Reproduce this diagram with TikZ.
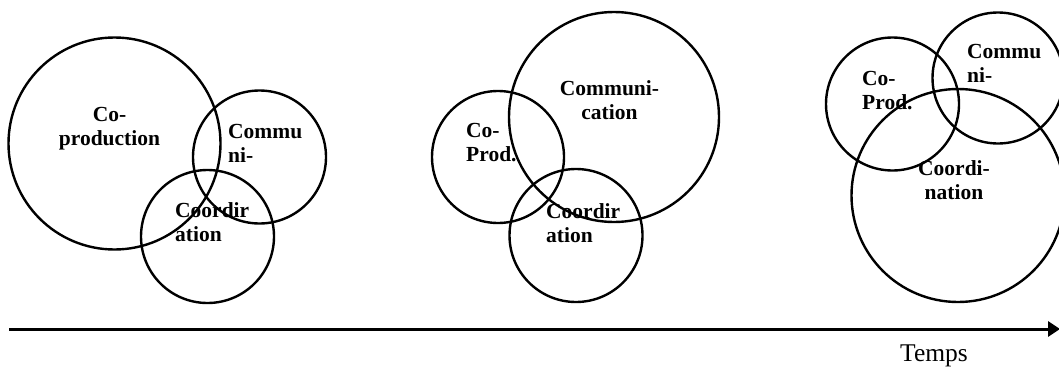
\documentclass[tikz,border=0pt]{standalone}
\usepackage{fontspec}
\setmainfont{Liberation Serif}
\usetikzlibrary{arrows.meta}

\begin{document}
\begin{tikzpicture}
  [x=1pt,y=-1pt,
   ring/.style={circle,draw,line width=2.4pt,inner sep=0pt},
   lbl/.style={inner sep=0pt,font=\fontsize{21.5}{24}\selectfont\bfseries}]
  \useasboundingbox (0,0) rectangle (1059,367);

  % circles: name/x/y/diameter
  \foreach \n/\x/\y/\d in {cp1/114.5/143.5/212,cm1/259.5/157/133,co1/207.5/236.5/133,
      cp2/498/157/132,cm2/614/117/210,co2/576/235.5/133,
      cp3/892.5/104/133,cm3/998/78/131,co3/958/195.5/213}
    \node[ring,minimum size=\d pt] (\n) at (\x,\y) {};

  \node[lbl,anchor=north,align=center] (tcp1) at (109.5,107) {Co-\\production};
  \node[lbl,anchor=north west,align=left] (tcm1) at (228,124) {Commu\\ni-};
  \node[lbl,anchor=north west,align=left] (tco1) at (175,202) {Coordir\\ation};

  \node[lbl,anchor=north west,align=left] (tcp2) at (466,123.5) {Co-\\Prod.};
  \node[lbl,anchor=north,align=center] (tcm2) at (609.5,80.5) {Communi-\\cation};
  \node[lbl,anchor=north west,align=left] (tco2) at (546,203.5) {Coordir\\ation};

  \node[lbl,anchor=north west,align=left] (tcp3) at (862,71.5) {Co-\\Prod.};
  \node[lbl,anchor=north west,align=left] (tcm3) at (967,44.5) {Commu\\ni-};
  \node[lbl,anchor=north,align=center] (tco3) at (954,160.5) {Coordi-\\nation};

  % time axis
  \coordinate (t0) at (9,329);
  \coordinate (t1) at (1060,329);
  \draw[line width=3pt,-{Triangle[length=12pt,width=15pt]}] (t0) -- (t1);
  \node[inner sep=0pt,anchor=base west,font=\fontsize{25.5}{30}\selectfont] (temps) at (900,361) {Temps};

\end{tikzpicture}
\end{document}
